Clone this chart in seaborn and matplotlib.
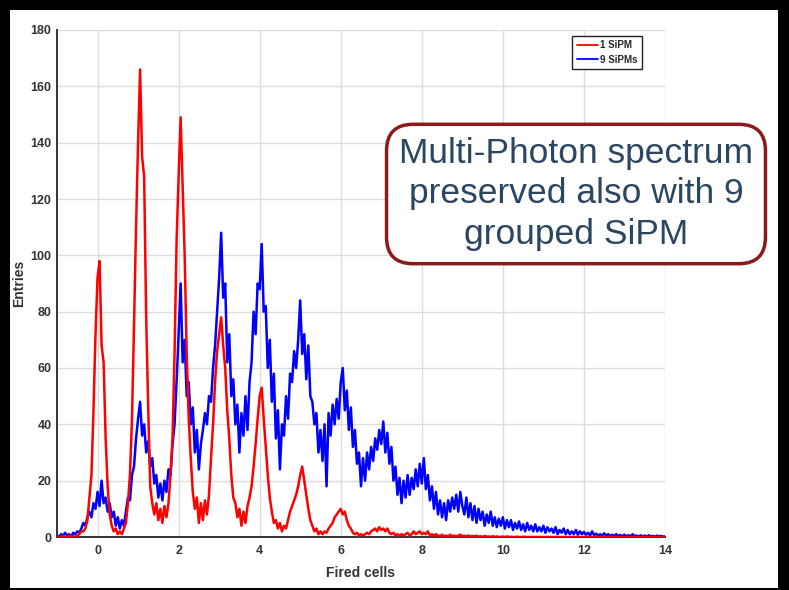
import numpy as np
import pandas as pd
import matplotlib
matplotlib.use("Agg")
import matplotlib.pyplot as plt
import seaborn as sns
from matplotlib.patches import Rectangle

# ---------------- data ----------------
# bins every 0.05 fired cells, from -1.00 to 14.00 (20 values per unit)
red_1sipm = [
    0, 0, 0, 0.3, 0, 0, 0.5, 0, 0.3, 0, 0.5, 1, 2, 2, 3, 6, 14, 22, 45, 72,            # -1
    92, 98, 68, 62, 35, 18, 8, 4, 2, 3, 1, 2, 1, 3, 5, 12, 22, 42, 75, 110,             # 0
    140, 166, 135, 128, 78, 46, 18, 12, 8, 12, 6, 10, 5, 11, 7, 12, 22, 35, 65, 105,    # 1
    128, 149, 125, 100, 65, 42, 28, 16, 10, 14, 5, 12, 6, 13, 8, 15, 28, 40, 55, 66,    # 2
    72, 78, 68, 60, 45, 35, 22, 14, 12, 7, 10, 4, 9, 5, 11, 14, 18, 25, 33, 42,         # 3
    50, 53, 42, 32, 22, 14, 9, 5, 6, 3, 5, 2, 4, 3, 6, 9, 11, 13, 15, 18,               # 4
    22, 25, 20, 15, 10, 6, 4, 2, 3, 1, 2, 1, 2, 1.5, 3, 4, 5, 7, 8, 9,                  # 5
    10, 8, 9, 6, 4, 3, 1.5, 1, 1.5, 0.5, 1, 0.5, 1, 1.5, 1, 2, 2.5, 3, 2, 3.5,          # 6
    2.5, 3, 2, 3, 1.5, 1, 1.5, 0.5, 1, 0.5, 1, 0.5, 1, 1.5, 0.5, 1, 2, 1, 1.5, 2,       # 7
    1, 1.5, 1, 2, 0.5, 1, 0.5, 1, 0.5, 0.3, 0.8, 0.3, 0.5, 0.2, 0.8, 0.3, 0.5, 0.2, 0.5, 0.8,  # 8
    0.3, 0.5, 0.2, 0.6, 0.1, 0.4, 0.2, 0.5, 0.1, 0.3, 0, 0.4, 0.1, 0.2, 0, 0.3, 0, 0.2, 0, 0.1,  # 9
    0.1, 0, 0.2, 0, 0.1, 0, 0, 0.1, 0, 0, 0.1, 0, 0, 0, 0, 0, 0, 0, 0, 0,                # 10
    0, 0, 0, 0, 0, 0, 0, 0, 0, 0, 0, 0, 0, 0, 0, 0, 0, 0, 0, 0,                          # 11
    0, 0, 0, 0, 0, 0, 0, 0, 0, 0, 0, 0, 0, 0, 0, 0, 0, 0, 0, 0,                          # 12
    0, 0, 0, 0, 0, 0, 0, 0, 0, 0, 0, 0, 0, 0, 0, 0, 0, 0, 0, 0,                          # 13
    0,                                                                                   # 14
]

blue_9sipm = [
    0.5, 0, 1, 0.5, 1.5, 0.5, 1, 0, 1.5, 1, 2, 1.5, 3, 5, 4, 7, 9, 7, 12, 10,           # -1
    16, 11, 20, 12, 14, 9, 12, 7, 9, 4, 7, 3, 6, 4, 9, 14, 13, 22, 25, 35,               # 0
    42, 48, 36, 40, 30, 34, 25, 28, 19, 22, 14, 19, 13, 20, 16, 24, 22, 33, 40, 55,      # 1
    72, 90, 62, 70, 50, 55, 40, 46, 30, 38, 24, 33, 38, 44, 40, 50, 48, 60, 68, 80,      # 2
    92, 108, 85, 90, 62, 72, 50, 56, 40, 47, 30, 44, 36, 50, 38, 55, 62, 80, 72, 90,     # 3
    88, 104, 80, 82, 60, 70, 48, 58, 35, 45, 24, 40, 36, 50, 42, 58, 55, 66, 60, 70,     # 4
    84, 65, 72, 56, 68, 50, 48, 40, 44, 30, 38, 27, 40, 18, 44, 36, 47, 40, 49, 42,      # 5
    55, 60, 45, 52, 38, 46, 32, 38, 26, 30, 18, 28, 20, 30, 24, 32, 27, 35, 31, 38,      # 6
    33, 41, 30, 37, 26, 32, 20, 25, 15, 21, 12, 20, 14, 22, 15, 21, 17, 24, 18, 26,      # 7
    19, 28, 17, 22, 13, 18, 10, 16, 8, 13, 7, 12, 6, 13, 9, 14, 10, 15, 9, 16,           # 8
    11, 8, 14, 7, 12, 6, 11, 5, 10, 6, 9, 4, 8, 5, 9, 4, 7, 3.5, 6.5, 4,                 # 9
    7, 3, 6, 3.5, 6, 2.5, 5, 3, 5.5, 2.5, 4.5, 2, 5, 2.5, 4, 2, 4.5, 2, 3.5, 2,          # 10
    4, 1.5, 3.5, 2, 3, 1.5, 3.5, 1, 2.5, 1.5, 3, 1, 2.5, 1, 2, 1, 2.5, 0.8, 2, 1,        # 11
    1.8, 0.8, 1.5, 0.5, 2, 0.7, 1.2, 0.5, 1, 0.4, 1.3, 0.5, 1, 0.3, 0.8, 0.4, 1, 0.3, 0.7, 0.3,  # 12
    0.8, 0.3, 0.6, 0.2, 1, 0.3, 0.5, 0.2, 0.6, 0.2, 0.5, 0.1, 0.6, 0.2, 0.4, 0.1, 0.5, 0.2, 0.4, 0.1,  # 13
    0.3,                                                                                 # 14
]

bin_start, bin_step = -1.0, 0.05
x_ticks = [0, 2, 4, 6, 8, 10, 12, 14]
y_ticks = [0, 20, 40, 60, 80, 100, 120, 140, 160, 180]
series_labels = ["1 SiPM", "9 SiPMs"]
x_label = "Fired cells"
y_label = "Entries"
note_text = "Multi-Photon spectrum\npreserved also with 9\ngrouped SiPM"

# ---------------- build frame ----------------
fired = bin_start + bin_step * np.arange(len(red_1sipm))
df = pd.DataFrame({"fired": fired, "red": red_1sipm, "blue": blue_9sipm})

# ---------------- figure ----------------
sns.set_theme(style="white")
plt.rcParams["font.family"] = ["Liberation Sans", "DejaVu Sans"]

W, H = 789, 590
fig = plt.figure(figsize=(W / 100, H / 100), dpi=100, facecolor="black")
fig.patches.append(Rectangle((10 / W, 1 - 588 / H), (778 - 10) / W, (588 - 10) / H,
                             transform=fig.transFigure, facecolor="white",
                             edgecolor="none", zorder=-10))

ax = fig.add_axes([57 / W, 1 - 537 / H, (665 - 57) / W, (537 - 30) / H])
ax.set_zorder(1)
ax.set_facecolor("white")

sns.lineplot(data=df, x="fired", y="blue", color="#0000ff", lw=1.8,
             estimator=None, sort=False, ax=ax, label=series_labels[1], zorder=3)
sns.lineplot(data=df, x="fired", y="red", color="#ff0000", lw=1.8,
             estimator=None, sort=False, ax=ax, label=series_labels[0], zorder=4)

ax.set_xlim(-1, 14)
ax.set_ylim(0, 180)
ax.set_xticks(x_ticks)
ax.set_yticks(y_ticks)
ax.grid(True, color="#dcdcdc", lw=1.0)
ax.set_axisbelow(True)

for s in ["top", "right"]:
    ax.spines[s].set_visible(False)
for s in ["left", "bottom"]:
    ax.spines[s].set_color("#333333")
    ax.spines[s].set_linewidth(1.4)

ax.tick_params(axis="both", direction="in", length=4, width=1, color="#333333",
               labelsize=9, labelcolor="#333333")
ax.tick_params(axis="y", pad=4)
ax.tick_params(axis="x", pad=6)
for lab in ax.get_xticklabels() + ax.get_yticklabels():
    lab.set_fontweight("bold")

ax.set_xlabel(x_label, fontsize=10, fontweight="bold", color="#333333", labelpad=6)
ax.set_ylabel(y_label, fontsize=10, fontweight="bold", color="#333333", labelpad=3)

handles, labels = ax.get_legend_handles_labels()
order = [labels.index(series_labels[0]), labels.index(series_labels[1])]
leg = ax.legend([handles[i] for i in order], [labels[i] for i in order],
                loc="upper right", bbox_to_anchor=(0.962, 0.988), borderaxespad=0,
                prop={"size": 7, "weight": "bold"}, handlelength=2.2,
                handletextpad=0.2, labelspacing=0.45, borderpad=0.45,
                fancybox=False, framealpha=1, edgecolor="#222222")
leg.get_frame().set_linewidth(1.0)
for h in leg.get_lines():
    h.set_linewidth(1.3)

fig.text(576 / W, 1 - 194 / H, note_text, ha="center", va="center",
         multialignment="center", fontsize=25.5, color="#2b4660", linespacing=1.3,
         zorder=5,
         bbox=dict(boxstyle="round,pad=0.35,rounding_size=0.75", facecolor="white",
                   edgecolor="#8b1a1a", linewidth=2.5))

fig.savefig("out.png", dpi=100, facecolor=fig.get_facecolor())
